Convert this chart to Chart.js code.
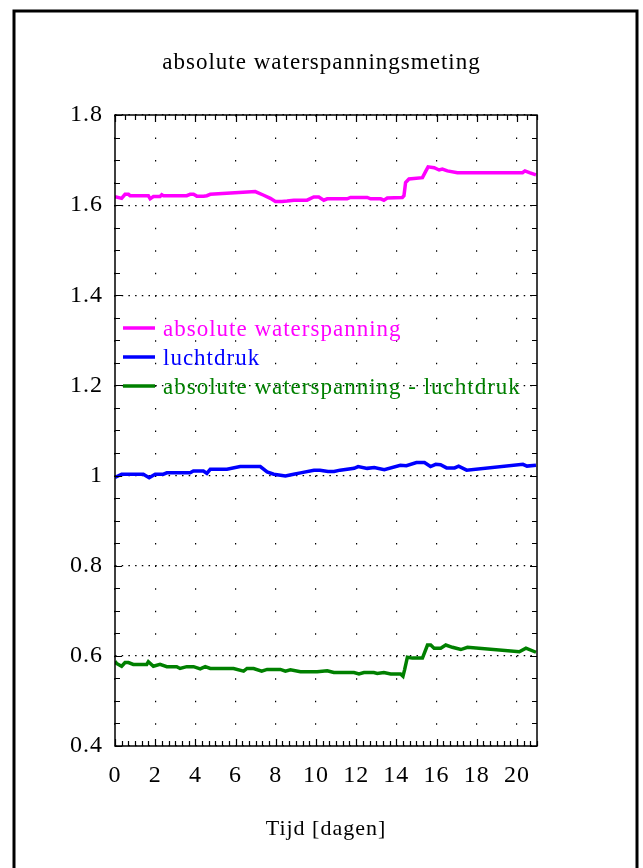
<!DOCTYPE html>
<html>
<head>
<meta charset="utf-8">
<title>absolute waterspanningsmeting</title>
<script src="https://cdn.jsdelivr.net/npm/chart.js@4.4.1/dist/chart.umd.min.js"></script>
<style>
  html, body { margin: 0; padding: 0; background: #fff; }
  canvas { display: block; }
</style>
</head>
<body>
<canvas id="waterChart" width="643" height="868"></canvas>
<script>
    'use strict';

    const absDays = [0, 0.33, 0.5, 0.67, 0.75, 1.66, 1.75, 1.91, 2.24, 2.33, 2.41, 3.57, 3.74, 3.91, 4.07, 4.41, 4.57, 4.74, 6.98, 7.4, 7.73, 7.98, 8.31, 8.56, 8.9, 9.56, 9.89, 10.14, 10.39, 10.56, 11.55, 11.72, 12.55, 12.72, 13.22, 13.38, 13.55, 14.3, 14.38, 14.46, 14.63, 15.3, 15.46, 15.58, 15.88, 16.13, 16.29, 16.54, 17.04, 20.28, 20.4, 20.62, 20.95];
    const absValues = [1.619, 1.615, 1.624, 1.624, 1.621, 1.621, 1.614, 1.619, 1.619, 1.623, 1.621, 1.621, 1.624, 1.624, 1.620, 1.620, 1.621, 1.624, 1.630, 1.622, 1.615, 1.608, 1.608, 1.609, 1.611, 1.611, 1.618, 1.618, 1.611, 1.614, 1.614, 1.617, 1.617, 1.614, 1.614, 1.611, 1.616, 1.617, 1.621, 1.650, 1.658, 1.661, 1.675, 1.685, 1.683, 1.678, 1.680, 1.676, 1.672, 1.672, 1.676, 1.672, 1.667];

    const luchtDays = [0, 0.33, 1.41, 1.70, 2.0, 2.41, 2.58, 3.74, 3.9, 4.4, 4.57, 4.74, 5.57, 6.23, 7.23, 7.57, 7.9, 8.48, 8.89, 9.23, 9.9, 10.2, 10.6, 10.9, 11.2, 11.9, 12.1, 12.55, 12.9, 13.4, 14.2, 14.5, 15.0, 15.4, 15.7, 15.96, 16.2, 16.5, 16.9, 17.1, 17.5, 20.3, 20.5, 20.95];
    const luchtValues = [0.996, 1.003, 1.003, 0.995, 1.003, 1.003, 1.006, 1.006, 1.010, 1.010, 1.005, 1.014, 1.014, 1.020, 1.020, 1.008, 1.003, 0.999, 1.003, 1.006, 1.012, 1.012, 1.009, 1.009, 1.012, 1.016, 1.020, 1.016, 1.018, 1.013, 1.023, 1.022, 1.029, 1.029, 1.020, 1.025, 1.024, 1.017, 1.017, 1.021, 1.012, 1.025, 1.021, 1.023];

    const verschilDays = [0, 0.08, 0.33, 0.5, 0.67, 0.91, 1.58, 1.66, 1.91, 2.24, 2.58, 3.07, 3.24, 3.57, 3.91, 4.24, 4.49, 4.74, 5.9, 6.4, 6.57, 6.9, 7.3, 7.57, 8.23, 8.48, 8.73, 9.23, 10.06, 10.56, 10.89, 11.89, 12.14, 12.39, 12.88, 13.05, 13.38, 13.72, 14.21, 14.33, 14.41, 14.55, 14.8, 15.3, 15.55, 15.71, 15.88, 16.21, 16.46, 16.79, 17.21, 17.54, 20.12, 20.45, 20.95];
    const verschilValues = [0.588, 0.583, 0.577, 0.585, 0.585, 0.581, 0.581, 0.587, 0.577, 0.581, 0.576, 0.576, 0.572, 0.576, 0.576, 0.571, 0.576, 0.572, 0.572, 0.566, 0.572, 0.572, 0.566, 0.570, 0.570, 0.566, 0.569, 0.565, 0.565, 0.567, 0.563, 0.563, 0.560, 0.563, 0.563, 0.561, 0.563, 0.560, 0.560, 0.555, 0.569, 0.597, 0.595, 0.595, 0.624, 0.624, 0.617, 0.617, 0.624, 0.619, 0.614, 0.619, 0.609, 0.617, 0.608];

    const seriesLabels = ['absolute waterspanning', 'luchtdruk', 'absolute waterspanning - luchtdruk'];
    const seriesColors = ['#ff00ff', '#0000ff', '#008000'];

    const xMin = 0, xMax = 21, xStep = 2;
    const yMin = 0.4, yMax = 1.8, yStep = 0.2;

    const FONT = "'Liberation Serif', 'Times New Roman', serif";

    const toPoints = (xs, ys) => xs.map((d, i) => ({ x: d, y: ys[i] }));

    // iets bredere letters, zoals in het origineel
    const spacingPlugin = {
        id: 'spacingPlugin',
        beforeDraw(chart) {
            chart.ctx.letterSpacing = '1px';
        }
    };

    // buitenkader, plotkader, tickjes en legenda binnen het plotvlak
    const framePlugin = {
        id: 'framePlugin',
        afterDraw(chart) {
            const { ctx, chartArea: a, scales: { x, y } } = chart;
            ctx.save();

            // buitenkader
            ctx.strokeStyle = '#000';
            ctx.lineWidth = 3;
            ctx.strokeRect(14, 11, chart.width - 20, chart.height + 10);

            // plotkader
            ctx.lineWidth = 1.5;
            ctx.strokeRect(a.left, a.top, a.right - a.left, a.bottom - a.top);

            // y tickjes links en rechts, per 0.05
            ctx.lineWidth = 1.2;
            ctx.beginPath();
            for (let i = 0; i <= Math.round((yMax - yMin) / 0.05); i++) {
                const v = yMin + i * 0.05;
                const py = Math.round(y.getPixelForValue(v)) + 0.5;
                const len = i % 4 === 0 ? 7 : 5;
                ctx.moveTo(a.left, py); ctx.lineTo(a.left + len, py);
                ctx.moveTo(a.right, py); ctx.lineTo(a.right - len, py);
            }
            // x tickjes onder per 1/3 dag, boven per halve dag
            for (let i = 0; i <= xMax * 3; i++) {
                const px = Math.round(x.getPixelForValue(i / 3)) + 0.5;
                const len = i % 6 === 0 ? 7 : 5;
                ctx.moveTo(px, a.bottom); ctx.lineTo(px, a.bottom - len);
            }
            for (let i = 0; i <= xMax * 2; i++) {
                const px = Math.round(x.getPixelForValue(i / 2)) + 0.5;
                const len = i % 4 === 0 ? 7 : 5;
                ctx.moveTo(px, a.top); ctx.lineTo(px, a.top + len);
            }
            ctx.stroke();

            // legenda
            ctx.font = '23px ' + FONT;
            ctx.letterSpacing = '1px';
            ctx.textBaseline = 'middle';
            ctx.textAlign = 'left';
            chart.data.datasets.forEach((ds, i) => {
                const ly = Math.round(y.getPixelForValue(1.327 - i * 0.0644));
                ctx.strokeStyle = ds.borderColor;
                ctx.lineWidth = 3.5;
                ctx.beginPath();
                ctx.moveTo(a.left + 8, ly);
                ctx.lineTo(a.left + 40, ly);
                ctx.stroke();
                ctx.fillStyle = ds.borderColor;
                ctx.fillText(ds.label, a.left + 48, ly + 2);
            });
            ctx.restore();
        }
    };

    new Chart(document.getElementById('waterChart'), {
        type: 'line',
        data: {
            datasets: seriesLabels.map((label, i) => ({
                label,
                data: toPoints([absDays, luchtDays, verschilDays][i], [absValues, luchtValues, verschilValues][i]),
                borderColor: seriesColors[i],
                backgroundColor: seriesColors[i],
                borderWidth: 3.5,
                pointRadius: 0,
                tension: 0,
                fill: false
            }))
        },
        options: {
            responsive: false,
            animation: false,
            devicePixelRatio: 1,
            layout: { padding: 0 },
            plugins: {
                legend: { display: false },
                tooltip: { enabled: false },
                title: {
                    display: true,
                    text: 'absolute waterspanningsmeting',
                    color: '#000',
                    font: { family: FONT, size: 23, weight: 'normal', lineHeight: 1.2 },
                    padding: { top: 49, bottom: 38.4 }
                }
            },
            scales: {
                x: {
                    type: 'linear',
                    min: xMin,
                    max: xMax,
                    grid: { color: '#000', lineWidth: 1.2, drawTicks: false },
                    border: { display: false, dash: [1.5, 21.03] },
                    ticks: {
                        stepSize: xStep,
                        includeBounds: false,
                        color: '#000',
                        padding: 15,
                        maxRotation: 0,
                        font: { family: FONT, size: 24 },
                        callback: v => String(v)
                    },
                    title: {
                        display: true,
                        text: 'Tijd [dagen]',
                        color: '#000',
                        font: { family: FONT, size: 22, lineHeight: 1.2 },
                        padding: { top: 0, bottom: 26 }
                    },
                    afterFit: s => { s.height = 122; }
                },
                y: {
                    min: yMin,
                    max: yMax,
                    grid: { color: '#000', lineWidth: 1.2, drawTicks: false },
                    border: { display: false, dash: [1.5, 5.2] },
                    ticks: {
                        stepSize: yStep,
                        color: '#000',
                        padding: 12,
                        font: { family: FONT, size: 24 },
                        callback: v => String(+v.toFixed(1))
                    },
                    afterFit: s => { s.width = 115; }
                },
                // lege rechteras, houdt ruimte vrij rechts van het plotvlak
                yRight: {
                    position: 'right',
                    display: true,
                    grid: { display: false, drawTicks: false },
                    border: { display: false },
                    ticks: { display: false },
                    afterFit: s => { s.width = 106; }
                }
            }
        },
        plugins: [spacingPlugin, framePlugin]
    });
</script>
</body>
</html>
